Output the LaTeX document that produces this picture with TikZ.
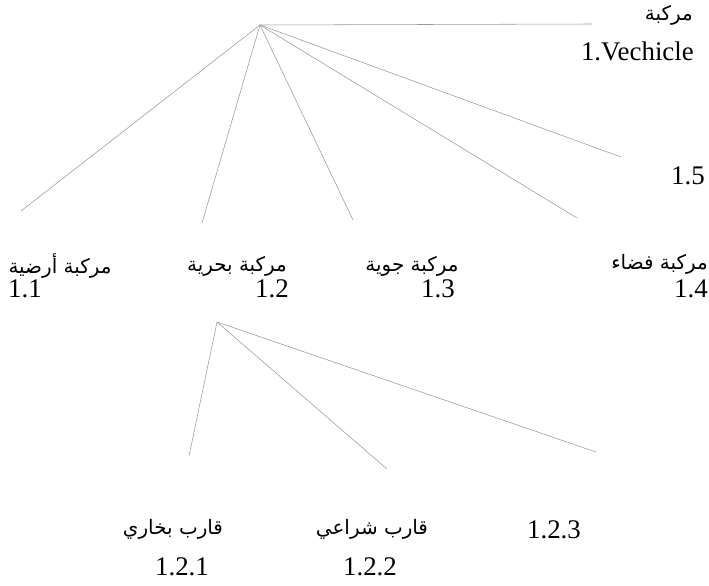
\documentclass[tikz,border=0pt]{standalone}
\usepackage{fontspec}
\setmainfont{Liberation Serif}
\newfontfamily\arabicfont[Script=Arabic]{DejaVu Sans}
\TeXXeTstate=1
\usepackage{tikz}
\usetikzlibrary{positioning}
\tikzset{every picture/.append style={thin}}
\tikzset{
  branch/.style={gray!80, line width=0.55pt},
  numlabel/.style={inner sep=0pt, font=\fontsize{27}{32}\selectfont},
  arlabel/.style={inner sep=0pt, font=\arabicfont\fontsize{20}{24}\selectfont}
}

\begin{document}
\begin{tikzpicture}[x=1bp, y=-1bp]
        \useasboundingbox (0,0) rectangle (709,586);

        % Branch points
        \coordinate (veh) at (260,25);
        \coordinate (sea) at (217,322);

        % Free ends of the first level
        \coordinate (etop) at (592,24);
        \coordinate (e11) at (21,211);
        \coordinate (e12) at (202,223);
        \coordinate (e13) at (353,220);
        \coordinate (e14) at (577,218);
        \coordinate (e15) at (621,157);

        % Free ends of the second level
        \coordinate (e121) at (189,456);
        \coordinate (e122) at (387,469);
        \coordinate (e123) at (596,452);

        % First level branches
        \draw[branch] (veh) -- (etop);
        \draw[branch] (veh) -- (e11);
        \draw[branch] (veh) -- (e12);
        \draw[branch] (veh) -- (e13);
        \draw[branch] (veh) -- (e14);
        \draw[branch] (veh) -- (e15);

        % Second level branches
        \draw[branch] (sea) -- (e121);
        \draw[branch] (sea) -- (e122);
        \draw[branch] (sea) -- (e123);

        % Root labels
        \node[arlabel, anchor=east] (tveh) at (693,15) {\beginR مركبة\endR};
        \node[numlabel, anchor=east] (nveh) at (694,51) {1.Vechicle};
        \node[numlabel, anchor=east] (n15) at (705,176) {1.5};

        % First level labels
        \node[arlabel] (t11) at (60,266) {\beginR مركبة أرضية\endR};
        \node[numlabel] (n11) at (25,289) {1.1};
        \node[arlabel] (t12) at (237,266) {\beginR مركبة بحرية\endR};
        \node[numlabel] (n12) at (272,289) {1.2};
        \node[arlabel] (t13) at (412,266) {\beginR مركبة جوية\endR};
        \node[numlabel] (n13) at (438,289) {1.3};
        \node[arlabel, anchor=east] (t14) at (708,264) {\beginR مركبة فضاء\endR};
        \node[numlabel, anchor=east] (n14) at (708,289) {1.4};

        % Second level labels
        \node[arlabel] (t121) at (173,529) {\beginR قارب بخاري\endR};
        \node[numlabel] (n121) at (182,567) {1.2.1};
        \node[arlabel] (t122) at (372,529) {\beginR قارب شراعي\endR};
        \node[numlabel] (n122) at (370,567) {1.2.2};
        \node[numlabel] (n123) at (554,530) {1.2.3};
    \end{tikzpicture}
\end{document}
